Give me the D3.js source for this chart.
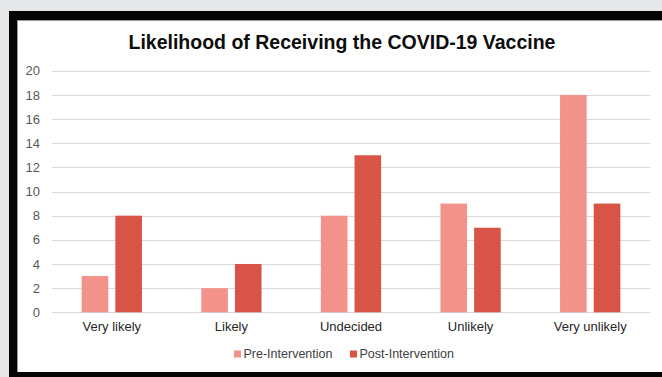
<!DOCTYPE html>
<html>
<head>
<meta charset="utf-8">
<script src="https://cdn.jsdelivr.net/npm/d3@7/dist/d3.min.js"></script>
<style>
  html, body { margin: 0; padding: 0; background: #e6e7e9; }
  svg { display: block; }
  text { font-family: "Liberation Sans", Arial, sans-serif; }
</style>
</head>
<body>
<svg id="chart" width="662" height="377"></svg>
<script>
const categories = ["Very likely", "Likely", "Undecided", "Unlikely", "Very unlikely"];
const seriesNames = ["Pre-Intervention", "Post-Intervention"];
const preValues = [3, 2, 8, 9, 18];
const postValues = [8, 4, 13, 7, 9];
const yTicks = [0, 2, 4, 6, 8, 10, 12, 14, 16, 18, 20];
const titleText = "Likelihood of Receiving the COVID-19 Vaccine";

const colors = { "Pre-Intervention": "#f2928a", "Post-Intervention": "#d85446" };

const svg = d3.select("#chart");

// Frame: dark border around a white panel
svg.append("rect").attr("x", 9).attr("y", 11).attr("width", 653).attr("height", 366).attr("fill", "#050505");
svg.append("rect").attr("x", 17).attr("y", 20).attr("width", 645).attr("height", 352).attr("fill", "#ffffff");
svg.append("line").attr("x1", 17.5).attr("x2", 17.5).attr("y1", 20).attr("y2", 372).attr("stroke", "#9a9a9a");
svg.append("line").attr("x1", 17).attr("x2", 662).attr("y1", 20.5).attr("y2", 20.5).attr("stroke", "#9a9a9a");

const plot = { left: 52, right: 650, top: 70.7, bottom: 312.3 };

const x0 = d3.scaleBand().domain(categories).range([plot.left, plot.right]).paddingInner(0.496).paddingOuter(0.248);
const x1 = d3.scaleBand().domain(seriesNames).range([0, x0.bandwidth()]).paddingInner(0.21);
const y = d3.scaleLinear().domain([0, 20]).range([plot.bottom, plot.top]);

// Gridlines
svg.append("g").selectAll("line").data(yTicks).join("line")
  .attr("x1", plot.left).attr("x2", plot.right)
  .attr("y1", d => Math.round(y(d)) + 0.5).attr("y2", d => Math.round(y(d)) + 0.5)
  .attr("stroke", "#d9d9d9").attr("stroke-width", 1);

// Y axis labels
const yAxis = d3.axisLeft(y).tickValues(yTicks).tickSize(0).tickPadding(0);
const yg = svg.append("g").attr("transform", `translate(40,0)`).call(yAxis);
yg.select(".domain").remove();
yg.selectAll("text").attr("fill", "#595959").style("font-size", "13px")
  .style("font-family", "'Liberation Sans', Arial, sans-serif");

// Bars
const rows = categories.map((c, i) => ({ cat: c, vals: [
  { s: seriesNames[0], v: preValues[i] },
  { s: seriesNames[1], v: postValues[i] }
]}));

svg.append("g").selectAll("g").data(rows).join("g")
  .attr("transform", d => `translate(${x0(d.cat)},0)`)
  .selectAll("rect").data(d => d.vals).join("rect")
  .attr("x", d => x1(d.s))
  .attr("width", x1.bandwidth())
  .attr("y", d => y(d.v))
  .attr("height", d => y(0) - y(d.v))
  .attr("fill", d => colors[d.s]);

// X axis labels
const xAxis = d3.axisBottom(x0).tickSize(0).tickPadding(0);
const xg = svg.append("g").attr("transform", `translate(0,${plot.bottom + 9})`).call(xAxis);
xg.select(".domain").remove();
xg.selectAll("text").attr("fill", "#262626").style("font-size", "13px")
  .style("font-family", "'Liberation Sans', Arial, sans-serif");

// Title
svg.append("text").attr("x", 342).attr("y", 49).attr("text-anchor", "middle")
  .style("font-size", "19.5px").style("font-weight", "bold").attr("fill", "#0d0d0d")
  .text(titleText);

// Legend
const legendX = [234, 350];
const lg = svg.append("g").selectAll("g").data(seriesNames).join("g")
  .attr("transform", (d, i) => `translate(${legendX[i]},350.5)`);
lg.append("rect").attr("width", 7).attr("height", 7).attr("fill", d => colors[d]);
lg.append("text").attr("x", 9.5).attr("y", 7).attr("fill", "#404040")
  .style("font-size", "12.5px").text(d => d);
</script>
</body>
</html>
